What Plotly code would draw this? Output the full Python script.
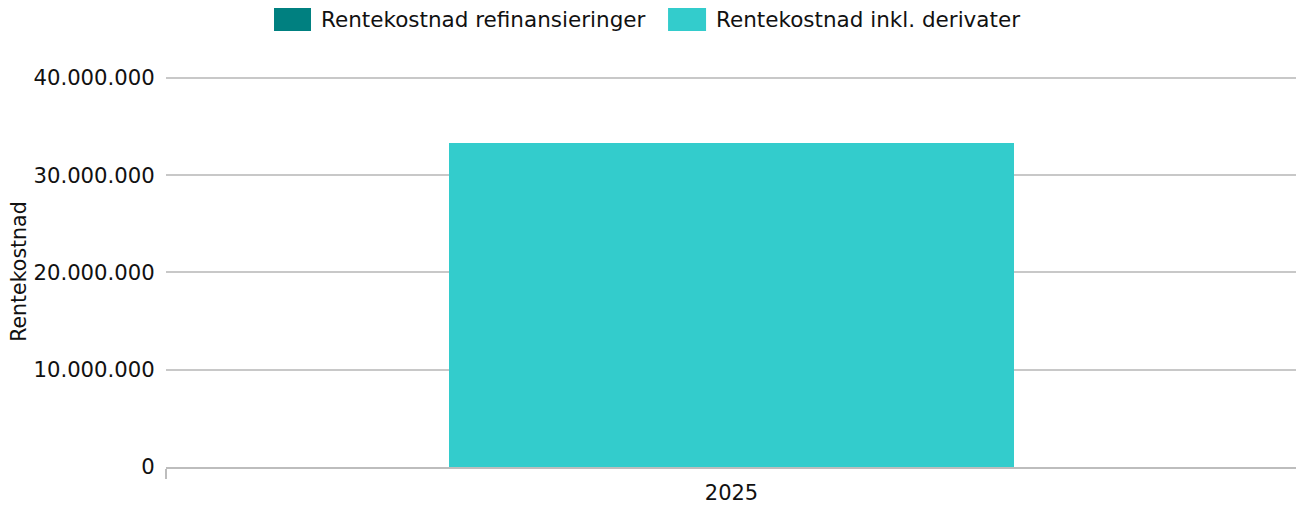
import plotly.graph_objects as go

categories = ["2025"]
refinansieringer = [0]
inkl_derivater = [33300000]
series_names = ["Rentekostnad refinansieringer", "Rentekostnad inkl. derivater"]
series_colors = ["#008080", "#33CCCC"]
y_ticks = [0, 10000000, 20000000, 30000000, 40000000]
y_title = "Rentekostnad"

fig = go.Figure()
fig.add_trace(go.Bar(x=categories, y=refinansieringer, name=series_names[0],
                     marker=dict(color=series_colors[0], line=dict(width=0))))
fig.add_trace(go.Bar(x=categories, y=inkl_derivater, name=series_names[1],
                     marker=dict(color=series_colors[1], line=dict(width=0))))

# Manual legend (large swatches like the reference)
legend_items = [
    dict(x0=0.0955, x1=0.1282, tx=0.1353),
    dict(x0=0.4439, x1=0.4775, tx=0.4846),
]
for item, name, color in zip(legend_items, series_names, series_colors):
    fig.add_shape(type="rect", xref="paper", yref="paper",
                  x0=item["x0"], x1=item["x1"], y0=1.1094, y1=1.1679,
                  fillcolor=color, line=dict(width=0))
    fig.add_annotation(xref="paper", yref="paper", x=item["tx"], y=1.1387,
                       text=name, showarrow=False, xanchor="left", yanchor="middle",
                       font=dict(family="DejaVu Sans", size=21.5, color="#111111"))

# Y axis title
fig.add_annotation(xref="paper", yref="paper", x=-0.1300, y=0.499, text=y_title,
                   textangle=-90, showarrow=False, xanchor="center", yanchor="middle",
                   font=dict(family="DejaVu Sans", size=20.5, color="#111111"))

fig.update_layout(
    width=1296, height=498,
    barmode="stack",
    bargap=0.5,
    separators=",.",
    paper_bgcolor="white", plot_bgcolor="white",
    font=dict(family="DejaVu Sans", size=21, color="#111111"),
    margin=dict(l=158, r=7, t=66, b=39),
    showlegend=False,
    xaxis=dict(showgrid=False, showline=True, linecolor="#bdbdbd", linewidth=2,
               ticks="outside", tickson="boundaries", ticklen=10, tickcolor="#bdbdbd",
               tickwidth=2, tickfont=dict(size=21), ticklabelstandoff=6,
               automargin=False),
    yaxis=dict(range=[0, 40400000], tickvals=y_ticks, tickformat=",d",
               showgrid=True, gridcolor="#c8c8c8", gridwidth=2, zeroline=False,
               showline=False, ticks="outside", ticklen=6, tickcolor="rgba(0,0,0,0)",
               tickfont=dict(size=21.2), automargin=False),
)

fig.write_html("out.html")
